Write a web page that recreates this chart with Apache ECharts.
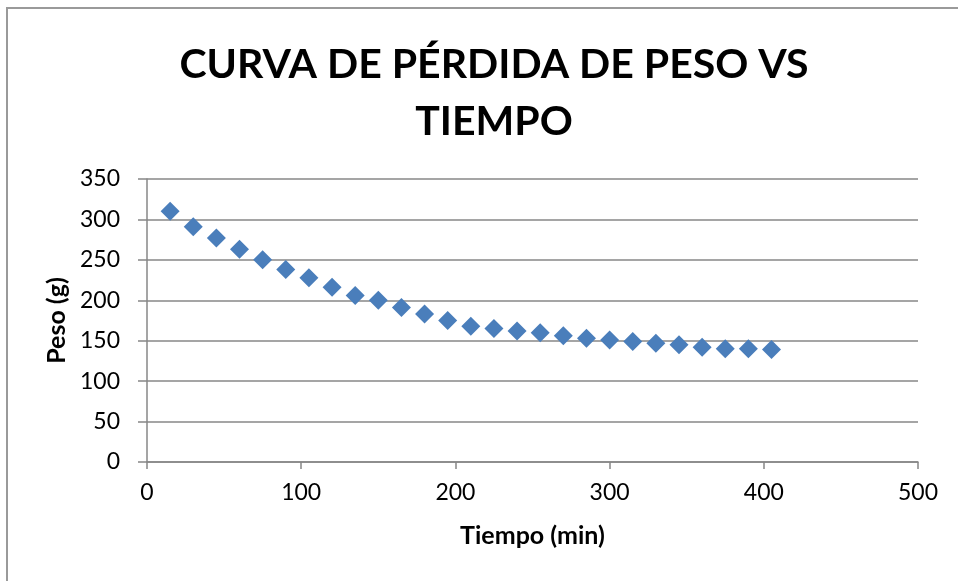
<!DOCTYPE html>
<html>
<head>
<meta charset="utf-8">
<script src="https://cdn.jsdelivr.net/npm/echarts@6/dist/echarts.min.js"></script>
<style>
html,body{margin:0;padding:0;background:#fff;}
#chart{width:958px;height:581px;}
</style>
</head>
<body>
<div id="chart"></div>
<script>
var tiempo = [15,30,45,60,75,90,105,120,135,150,165,180,195,210,225,240,255,270,285,300,315,330,345,360,375,390,405];
var peso = [310,291,277,263,250,238,228,216,206,200,191,183,175,168,165,162,160,156,153,151,149,147,145,142,140,140,139];
var titleText = 'CURVA DE PÉRDIDA DE PESO VS\nTIEMPO';
var xName = 'Tiempo (min)';
var yName = 'Peso (g)';

var points = tiempo.map(function(t, i){ return [t, peso[i]]; });
var gridColor = '#878787';
var chart = echarts.init(document.getElementById('chart'), null, {renderer:'canvas'});
chart.setOption({
  backgroundColor: '#ffffff',
  animation: false,
  title: {
    text: titleText,
    left: 489,
    top: 31,
    textAlign: 'center',
    textStyle: {fontFamily: 'Lato', fontWeight: 'bold', fontSize: 41, lineHeight: 57, color: '#000'}
  },
  graphic: [{
    type: 'rect', silent: true,
    shape: {x: 7, y: 8, width: 1100, height: 1100},
    style: {fill: 'none', stroke: '#9a9a9a', lineWidth: 2}
  }],
  grid: {left: 147, right: 40, top: 179, bottom: 119},
  xAxis: {
    type: 'value', min: 0, max: 500, interval: 100,
    name: xName, nameLocation: 'middle', nameGap: 61,
    nameTextStyle: {fontFamily: 'Lato', fontWeight: 'bold', fontSize: 25, color: '#000'},
    axisLine: {show: true, lineStyle: {color: gridColor, width: 1.5}},
    axisTick: {show: true, length: 7, lineStyle: {color: gridColor, width: 1.5}},
    axisLabel: {fontFamily: 'Lato', fontSize: 23, color: '#000', margin: 19},
    splitLine: {show: false}
  },
  yAxis: {
    type: 'value', min: 0, max: 350, interval: 50,
    name: yName, nameLocation: 'middle', nameGap: 77,
    nameTextStyle: {fontFamily: 'Lato', fontWeight: 'bold', fontSize: 25, color: '#000'},
    axisLine: {show: true, lineStyle: {color: gridColor, width: 1.5}},
    axisTick: {show: true, length: 9, lineStyle: {color: gridColor, width: 1.5}},
    axisLabel: {fontFamily: 'Lato', fontSize: 23, color: '#000', margin: 27},
    splitLine: {show: true, lineStyle: {color: gridColor, width: 1.5}}
  },
  series: [{
    type: 'scatter',
    data: points,
    symbol: 'diamond',
    symbolSize: 19,
    itemStyle: {color: '#4A7EBB', opacity: 1}
  }]
});
</script>
</body>
</html>
